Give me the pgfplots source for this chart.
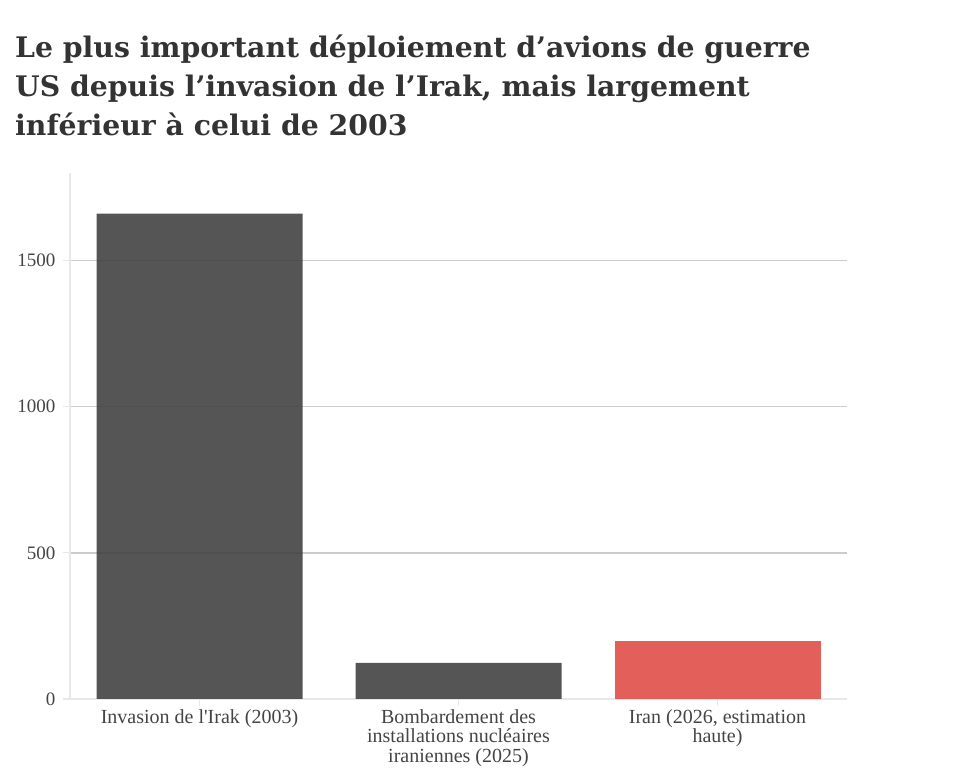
\documentclass[border=0pt]{standalone}
\usepackage{fontspec}
\setmainfont{Liberation Serif}
\newfontfamily\titlefont{DejaVu Serif}
\usepackage{pgfplots}
\pgfplotsset{compat=1.18}
\definecolor{titlegray}{HTML}{333333}
\definecolor{labgray}{HTML}{444444}
\definecolor{bargray}{HTML}{424242}
\definecolor{barred}{HTML}{E04F48}
\definecolor{gridgray}{HTML}{CCCCCC}
\definecolor{axisgray}{HTML}{E8E8E8}

\begin{document}
\begin{tikzpicture}
\path[use as bounding box] (0,0) rectangle (953pt,778pt);
% title, one node per line
\begin{scope}[every node/.style={anchor=base west, inner sep=0pt, text=titlegray,
    font=\titlefont\bfseries\fontsize{28.3}{33}\selectfont}]
\node at (15pt,720pt) {Le plus important déploiement d’avions de guerre};
\node at (15pt,681pt) {US depuis l’invasion de l’Irak, mais largement};
\node at (15pt,642pt) {inférieur à celui de 2003};
\end{scope}

\begin{axis}[
    at={(70pt,79pt)}, anchor=south west,
    scale only axis,
    width=777pt, height=526pt,
    xmin=-0.5, xmax=2.5,
    ymin=0, ymax=1800,
    ybar, bar width=206pt, bar shift=0pt,
    xtick={0,1,2},
    xticklabels={{Invasion de l\textquotesingle Irak (2003)},
                 {Bombardement des\\installations nucléaires\\iraniennes (2025)},
                 {Iran (2026, estimation\\haute)}},
    xticklabel style={align=center, font=\fontsize{20}{19.5}\selectfont, text=labgray},
    ytick={500,1000,1500},
    extra y ticks={0},
    extra y tick style={grid=none},
    yticklabel style={font=\fontsize{19}{19}\selectfont, text=labgray, xshift=-4pt},
    /pgf/number format/assume math mode=true,
    /pgf/number format/1000 sep={},
    scaled y ticks=false,
    ymajorgrids=true,
    grid style={gridgray, line width=1.3pt},
    axis x line*=bottom, axis y line*=left,
    axis line style={axisgray, line width=1.5pt},
    tick style={axisgray, line width=1.2pt},
    major tick length=7pt,
    tick align=outside,
    x axis line style={-}, y axis line style={-},
]
\addplot[fill=bargray, draw=none, fill opacity=0.9] coordinates {(0,1661) (1,124)};
\addplot[fill=barred, draw=none, fill opacity=0.9] coordinates {(2,200)};
\end{axis}
\end{tikzpicture}
\end{document}
